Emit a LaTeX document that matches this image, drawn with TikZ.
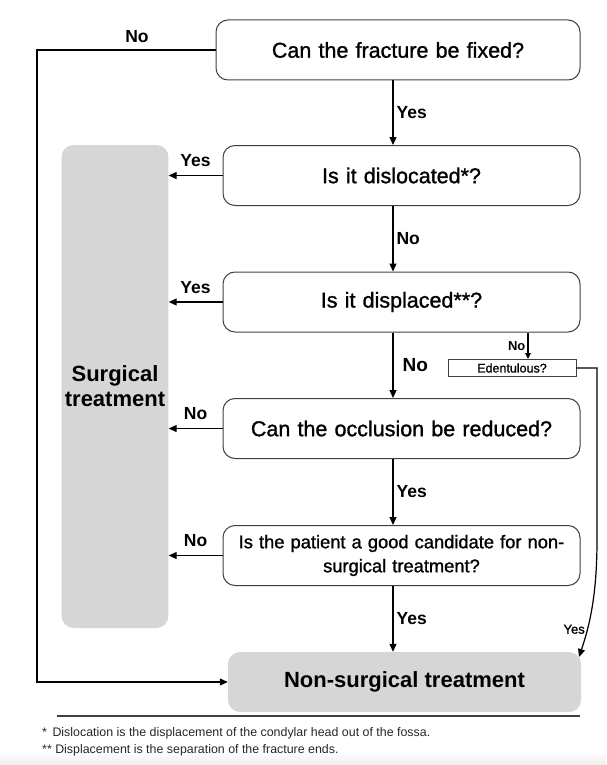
\documentclass[tikz,border=0pt]{standalone}
\usepackage{fontspec}
\setmainfont{Liberation Sans}
\newfontfamily\qfont{Liberation Sans}[FakeBold=1.2]
\usetikzlibrary{arrows.meta}

\begin{document}
\begin{tikzpicture}[x=1pt, y=-1pt,
	question/.style={draw=black!75, line width=1pt, rounded corners=12pt, minimum height=60pt, minimum width=357pt, text width=348pt, inner sep=3pt, align=center, font=\qfont\fontsize{21.5}{25}\selectfont},
	outcome/.style={fill=black!16, rounded corners=12pt, font=\fontsize{22}{25}\selectfont\bfseries, align=center},
	arr/.style={line width=1.2pt, -{Triangle[length=8pt,width=7pt]}},
	lbl/.style={font=\fontsize{17.5}{20}\selectfont\bfseries, inner sep=3pt},
	small/.style={font=\fontsize{13}{15}\selectfont\bfseries, inner sep=2pt}]
			\useasboundingbox (0,0) rectangle (606,765);
\shade[top color=white, bottom color=black!7] (0,752) rectangle (606,765);

% gray outcome boxes
\node[outcome, minimum width=106pt, minimum height=483pt] (surg) at (115,386.5) {Surgical\\treatment};
\node[outcome, minimum width=353pt, minimum height=60pt] (nonsurg) at (404.5,682) {Non-surgical treatment};

% questions
\node[question, minimum width=364pt] (fixed) at (398,50) {Can the fracture be fixed?};
\node[question] (disloc) at (401.5,175.5) {Is it dislocated*?};
\node[question] (displ) at (401.5,302) {Is it displaced**?};
\node[question] (occl) at (401.5,428.5) {Can the occlusion be reduced?};
\node[question, font=\qfont\fontsize{18.3}{24}\selectfont] (cand) at (401.5,555.5) {Is the patient a good candidate for non-\\surgical treatment?};
\node[draw=black!75, line width=1pt, minimum width=128pt, minimum height=17pt, inner sep=0pt, font=\qfont\fontsize{12.5}{14}\selectfont] (edent) at (512,368) {Edentulous?};

\coordinate (mid) at (393,0);
\coordinate (far) at (37,0);
\coordinate (bend) at (597,540);
\coordinate (tip) at (579,657);

% main column
\draw[arr] (fixed.south -| mid) -- node[lbl, right]{Yes} (disloc.north -| mid);
\draw[arr] (disloc.south -| mid) -- node[lbl, right]{No} (displ.north -| mid);
\draw[arr] (displ.south -| mid) -- node[lbl, right, xshift=6pt, font=\fontsize{19}{20}\selectfont\bfseries]{No} (occl.north -| mid);
\draw[arr] (occl.south -| mid) -- node[lbl, right]{Yes} (cand.north -| mid);
\draw[arr] (cand.south -| mid) -- node[lbl, right]{Yes} (nonsurg.north -| mid);

% to surgical treatment
\draw[arr] (disloc.west) -- node[lbl, above=5pt]{Yes} (disloc.west -| surg.east);
\draw[arr] (displ.west) -- node[lbl, above=5pt]{Yes} (displ.west -| surg.east);
\draw[arr] (occl.west) -- node[lbl, above=5pt]{No} (occl.west -| surg.east);
\draw[arr] (cand.west) -- node[lbl, above=5pt]{No} (cand.west -| surg.east);

% side branches
\draw[arr] (fixed.west) -- node[lbl, above=4pt, pos=0.44]{No} (fixed.west -| far) -- (nonsurg.west -| far) -- (nonsurg.west);
\draw[line width=1.2pt, -{Triangle[length=6pt,width=5.5pt]}] (displ.south -| edent.center) ++(16pt,0) coordinate (ed1) -- node[small, left]{No} (edent.north -| ed1);
\draw[arr] (edent.east) -- (edent.east -| bend) -- (bend) .. controls (597,600) and (588,630) .. node[small, left, pos=0.68, font=\qfont\fontsize{13}{15}\selectfont]{Yes} (tip);

% footnotes
\draw[line width=1.4pt, black!75] (57,716) -- (580,716);
\node[anchor=west, inner sep=0pt, font=\fontsize{12.4}{14}\selectfont, black!85] (fn1) at (42,733) {*\, Dislocation is the displacement of the condylar head out of the fossa.};
\node[anchor=west, inner sep=0pt, font=\fontsize{12.4}{14}\selectfont, black!85] (fn2) at (42,750) {** Displacement is the separation of the fracture ends.};












		\end{tikzpicture}
\end{document}
